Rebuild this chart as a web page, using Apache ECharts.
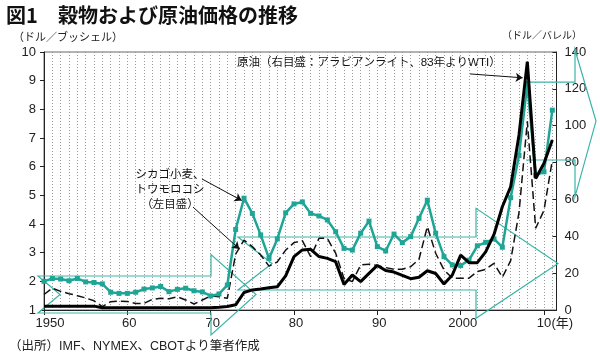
<!DOCTYPE html>
<html><head><meta charset="utf-8">
<script src="https://cdn.jsdelivr.net/npm/echarts@6/dist/echarts.min.js"></script>
<style>html,body{margin:0;padding:0;background:#fff}#c{width:600px;height:357px}</style>
</head><body><div id="c"></div>
<script>
const years = [1950,1951,1952,1953,1954,1955,1956,1957,1958,1959,
  1960,1961,1962,1963,1964,1965,1966,1967,1968,1969,
  1970,1971,1972,1973,1974,1975,1976,1977,1978,1979,
  1980,1981,1982,1983,1984,1985,1986,1987,1988,1989,
  1990,1991,1992,1993,1994,1995,1996,1997,1998,1999,
  2000,2001,2002,2003,2004,2005,2006,2007,2008,2009,
  2010,2011];
// シカゴ小麦 (ドル/ブッシェル, 左目盛)
const wheat = [2.00,2.10,2.08,2.02,2.10,1.98,1.96,1.91,1.62,1.58,
  1.58,1.62,1.73,1.77,1.82,1.64,1.72,1.76,1.67,1.63,
  1.49,1.56,1.87,3.81,4.90,4.37,3.62,2.80,3.48,4.39,
  4.70,4.77,4.37,4.28,4.14,3.73,3.15,3.09,3.68,4.10,
  3.21,3.06,3.65,3.35,3.56,4.20,4.83,3.68,2.86,2.57,
  2.55,2.74,3.24,3.36,3.48,3.19,4.92,6.39,8.90,5.70,
  5.82,7.97];
// トウモロコシ (ドル/ブッシェル, 左目盛)
const corn = [1.54,1.76,1.65,1.57,1.50,1.42,1.32,1.12,1.29,1.31,
  1.30,1.23,1.23,1.37,1.41,1.39,1.46,1.35,1.21,1.35,
  1.49,1.46,1.41,2.95,3.44,3.21,2.92,2.53,2.68,3.09,
  3.35,3.42,2.86,3.50,3.50,2.98,2.10,1.99,2.57,2.60,
  2.55,2.48,2.42,2.42,2.51,2.77,3.91,2.98,2.40,2.11,
  2.11,2.11,2.34,2.42,2.63,2.14,2.72,4.40,7.58,3.85,
  4.48,6.23];
// 原油 (ドル/バレル, 右目盛)
const oil = [2.1,2.1,2.1,2.1,2.1,2.1,2.1,1.2,1.2,1.2,
  1.2,1.2,1.2,1.2,1.2,1.2,1.2,1.2,1.2,1.2,
  1.2,1.5,1.9,2.8,9.5,10.9,11.4,12.1,12.6,18.5,
  29.0,32.6,32.9,29.0,28.0,26.2,13.8,19.0,15.4,19.9,
  24.2,21.4,20.6,18.8,17.0,17.8,21.3,19.8,14.1,19.0,
  29.8,25.7,25.7,31.5,41.0,56.0,66.9,95.0,134.7,71.4,
  79.6,92.2];
const xTickValues = [1950,1960,1970,1980,1990,2000,2010];
const xTickLabels = ['1950','60','70','80','90','2000','10'];

// 装飾の矢印 [尾X, 切込X, 頭基部X, 先端X, 上辺, 下辺, 頭上端, 頭下端, 閉じる]
const arrowsLeft = [[1949.28,1951.92,1970.04,1975.44,2.186,0.895,2.936,0.128,1]];
const arrowsRight = [
  [1973.28,1977.36,2001.84,2011.68,39.6,10.85,55.2,-4.5,1],
  [2007.84,2007.84,2013.72,2016.24,123.6,81.4,141.1,61.5,0]
];
// 引出線 [[x1,y1],[x2,y2]]
const wheatLeader = [[1968.96,5.57],[1973.72,4.82]];
const cornLeader = [[1967.88,4.59],[1973.44,3.13]];
const oilLeader = [[2001.12,128.1],[2007.44,126.0]];

const pair = arr => years.map((y,i)=>[y,arr[i]]);
const FONT = "'Liberation Sans','Noto Sans CJK JP',sans-serif";
const JFONT = "'Noto Sans CJK JP',sans-serif";
const TEAL = '#1fa596';
const ARROW = '#3ab5a8';

function arrowItem(params, api){
  const tx=api.value(0), nx=api.value(1), bx=api.value(2), px=api.value(3);
  const top=api.value(4), bot=api.value(5), ht=api.value(6), hb=api.value(7), closed=api.value(8);
  const mid=(top+bot)/2;
  const p = a=>api.coord(a);
  const pts=[p([tx,top]),p([bx,top]),p([bx,ht]),p([px,mid]),p([bx,hb]),p([bx,bot]),p([tx,bot])];
  if(closed) pts.push(p([nx,mid]));
  return {type: closed?'polygon':'polyline', shape:{points:pts},
    style:{fill:'none', stroke:ARROW, lineWidth:1.2}};
}
function leader(coords){
  return {silent:true, symbol:['none','arrow'], symbolSize:7, animation:false,
    label:{show:false}, lineStyle:{color:'#111', width:1, type:'solid'},
    emphasis:{disabled:true},
    data:[[{coord:coords[0]},{coord:coords[1]}]]};
}

const chart = echarts.init(document.getElementById('c'));
chart.setOption({
  animation:false,
  grid:{left:44, right:43.5, top:52, bottom:47, show:true, borderColor:'#666', borderWidth:1, backgroundColor:'transparent'},
  xAxis:[{
    type:'value', min:1950, max:2011.5, interval:10,
    axisLine:{show:true, lineStyle:{color:'#222', width:1}},
    axisTick:{show:true, inside:false, length:5, lineStyle:{color:'#222'}},
    axisLabel:{show:true, showMaxLabel:false, margin:7, color:'#222', fontSize:13, fontFamily:FONT,
      formatter:v=>{
        const i = xTickValues.indexOf(v);
        if(i<0) return '';
        if(v===2010) return '{p|}{n|'+xTickLabels[i]+'}{u|(年)}';
        if(v===1950) return '{q|}{n|'+xTickLabels[i]+'}';
        return '{s|}{n|'+xTickLabels[i]+'}';
      },
      rich:{p:{width:22}, q:{width:12}, s:{width:4},
        n:{fontSize:13, fontFamily:FONT, color:'#222'}, u:{fontSize:13, fontFamily:FONT, color:'#222', width:22}}
    },
    splitLine:{show:false}
  },{
    type:'value', min:1950, max:2011.5, interval:1, position:'top',
    axisLine:{show:false}, axisTick:{show:false}, axisLabel:{show:false},
    splitLine:{show:true, lineStyle:{color:'#9a9a9a', width:1, type:[1,2]}}
  }],
  yAxis:[{
    type:'value', min:1, max:10, interval:1, position:'left',
    axisLine:{show:true, lineStyle:{color:'#222'}},
    axisTick:{show:true, inside:false, length:4, lineStyle:{color:'#222'}},
    axisLabel:{margin:8, color:'#222', fontSize:13, fontFamily:FONT},
    splitLine:{show:false}
  },{
    type:'value', min:0, max:140, interval:20, position:'right',
    axisLine:{show:true, lineStyle:{color:'#222'}},
    axisTick:{show:true, inside:true, length:4, lineStyle:{color:'#222'}},
    axisLabel:{margin:8, color:'#222', fontSize:13, fontFamily:FONT},
    splitLine:{show:false}
  }],
  series:[
    {type:'custom', xAxisIndex:0, yAxisIndex:0, renderItem:arrowItem, data:arrowsLeft, clip:false, z:1, silent:true, encode:{x:0,y:4}},
    {type:'custom', xAxisIndex:0, yAxisIndex:1, renderItem:arrowItem, data:arrowsRight, clip:false, z:1, silent:true, encode:{x:0,y:4}},
    {name:'トウモロコシ', type:'line', xAxisIndex:0, yAxisIndex:0, data:pair(corn), showSymbol:false, symbol:'none', z:3,
      lineStyle:{color:'#111', width:1.5, type:[8,4]}, markLine:leader(cornLeader)},
    {name:'シカゴ小麦', type:'line', xAxisIndex:0, yAxisIndex:0, data:pair(wheat), symbol:'rect', symbolSize:5, z:4,
      itemStyle:{color:TEAL}, lineStyle:{color:TEAL, width:2.5}, markLine:leader(wheatLeader)},
    {name:'原油', type:'line', xAxisIndex:0, yAxisIndex:1, data:pair(oil), showSymbol:false, symbol:'none', z:5,
      lineStyle:{color:'#000', width:3}, markLine:leader(oilLeader)}
  ],
  graphic:[
    {type:'text', x:6, y:15, style:{text:'図1', fontSize:20, fontWeight:'bold', fontFamily:JFONT, fill:'#111', align:'left', verticalAlign:'middle'}},
    {type:'text', x:58, y:15, style:{text:'穀物および原油価格の推移', fontSize:20, fontWeight:'bold', fontFamily:JFONT, fill:'#111', align:'left', verticalAlign:'middle'}},
    {type:'text', x:13, y:37, style:{text:'（ドル／ブッシェル）', fontSize:11, fontFamily:JFONT, fill:'#222', align:'left', verticalAlign:'middle'}},
    {type:'text', x:542, y:35, style:{text:'（ドル／バレル）', fontSize:10, fontFamily:JFONT, fill:'#222', align:'center', verticalAlign:'middle'}},
    {type:'text', x:237, y:63, style:{text:'原油（右目盛：アラビアンライト、83年よりWTI）', fontSize:11.5, fontFamily:FONT, fill:'#111', align:'left', verticalAlign:'middle'}},
    {type:'text', x:170, y:189, style:{text:'シカゴ小麦、\nトウモロコシ\n（左目盛）', fontSize:11.5, lineHeight:15, fontFamily:JFONT, fill:'#111', align:'center', verticalAlign:'middle'}},
    {type:'text', x:9, y:347, style:{text:'（出所）IMF、NYMEX、CBOTより筆者作成', fontSize:12.5, fontFamily:FONT, fill:'#222', align:'left', verticalAlign:'middle'}}
  ]
});
</script></body></html>
